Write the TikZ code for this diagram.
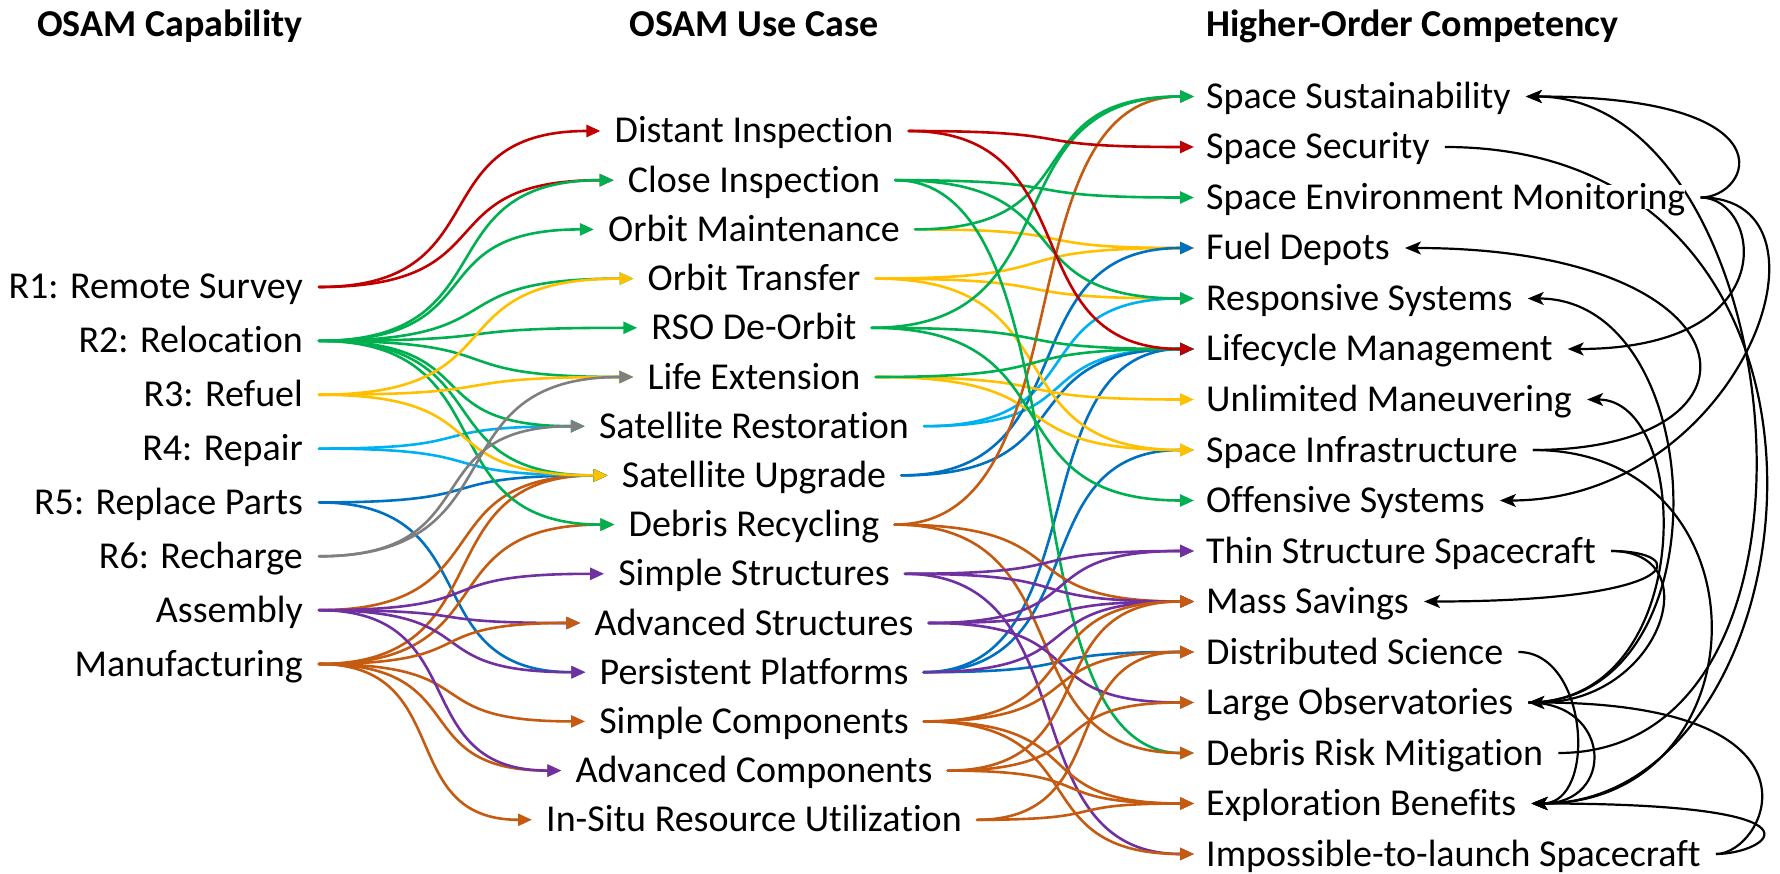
\documentclass[tikz,border=0pt]{standalone}
\usepackage{fontspec}
\setmainfont{Carlito}[Ligatures=NoCommon]
\usetikzlibrary{arrows.meta,calc}
\pgfdeclarelayer{bg}
\pgfsetlayers{bg,main}

\definecolor{cRed}{HTML}{C00000}
\definecolor{cGreen}{HTML}{00B050}
\definecolor{cYellow}{HTML}{FFC000}
\definecolor{cSky}{HTML}{00B0F0}
\definecolor{cBlue}{HTML}{0070C0}
\definecolor{cGray}{HTML}{7F7F7F}
\definecolor{cPurple}{HTML}{7030A0}
\definecolor{cOrange}{HTML}{C55A11}

\tikzset{
  item/.style={font=\fontsize{38}{44}\selectfont, inner sep=0pt, text height=24pt, text depth=0pt},
  head/.style={font=\bfseries\fontsize{38}{44}\selectfont, inner sep=0pt, text height=24pt, text depth=0pt},
  link/.style={line width=2.6pt, line cap=round, -{Triangle[length=14pt,width=12pt]}},
  back/.style={line width=2.2pt, black, -{Stealth[length=16pt,width=13pt,inset=4pt]}},
}

% S-shaped colored connector between two named points
\newcommand\flow[3]{%
  \draw[link,#1] let \p1=(#2), \p2=(#3), \n1={0.65*(\x2-\x1)} in
    (#2) .. controls +(\n1,0) and +(-\n1,0) .. (#3);}
% black connector looping out to the right side
\newcommand\backlink[4]{%
  \draw[back] (#1) to[out=0,in=0,out distance=#3pt,in distance=#4pt] (#2);}

\begin{document}
\begin{tikzpicture}[x=1pt,y=-1pt]
\useasboundingbox (0,0) rectangle (1780,874);

% column headings
\node[head, anchor=east] (hcap) at (303,25) {OSAM Capability};
\node[head] (huse) at (754,25) {OSAM Use Case};
\node[head, anchor=west] (hcomp) at (1206,25) {Higher-Order Competency};

% capabilities
\foreach \n/\t [count=\i] in {r1/{R1: Remote Survey}, r2/{R2: Relocation}, r3/{R3: Refuel},
    r4/{R4: Repair}, r5/{R5: Replace Parts}, r6/{R6: Recharge}, asm/{Assembly}, mfg/{Manufacturing}} {
  \node[item, anchor=east] (\n) at (303,{287+53.86*(\i-1)}) {\t};
  \coordinate (\n-o) at ([xshift=16pt]\n.east);
}

% use cases
\foreach \t [count=\i] in {Distant Inspection, Close Inspection, Orbit Maintenance, Orbit Transfer,
    RSO De-Orbit, Life Extension, Satellite Restoration, Satellite Upgrade, Debris Recycling,
    Simple Structures, Advanced Structures, Persistent Platforms, Simple Components,
    Advanced Components, In-Situ Resource Utilization} {
  \node[item] (m\i) at (754,{131+49.2*(\i-1)}) {\t};
  \coordinate (m\i-i) at ([xshift=-14pt]m\i.west);
  \coordinate (m\i-o) at ([xshift=15pt]m\i.east);
}

% competencies
\foreach \t [count=\i] in {Space Sustainability, Space Security, Space Environment Monitoring,
    Fuel Depots, Responsive Systems, Lifecycle Management, Unlimited Maneuvering,
    Space Infrastructure, Offensive Systems, Thin Structure Spacecraft, Mass Savings,
    Distributed Science, Large Observatories, Debris Risk Mitigation, Exploration Benefits,
    Impossible-to-launch Spacecraft} {
  \node[item, anchor=west, fill=white] (h\i) at (1206,{96.5+50.5*(\i-1)}) {\t};
  \coordinate (h\i-i) at ([xshift=-12pt]h\i.west);
  \coordinate (h\i-b) at ([xshift=15pt]h\i.east);
}

\begin{pgfonlayer}{bg}
% capability -> use case
\flow{cBlue}{r5-o}{m12-i}
\flow{cBlue}{r5-o}{m8-i}
\flow{cOrange}{mfg-o}{m8-i}
\flow{cOrange}{asm-o}{m8-i}
\flow{cOrange}{mfg-o}{m9-i}
\flow{cOrange}{mfg-o}{m13-i}
\flow{cOrange}{mfg-o}{m14-i}
\flow{cOrange}{mfg-o}{m15-i}
\flow{cPurple}{asm-o}{m10-i}
\flow{cPurple}{asm-o}{m11-i}
\flow{cPurple}{asm-o}{m12-i}
\flow{cPurple}{asm-o}{m14-i}
\flow{cOrange}{mfg-o}{m11-i}
\flow{cSky}{r4-o}{m7-i}
\flow{cSky}{r4-o}{m8-i}
\flow{cRed}{r1-o}{m1-i}
\flow{cRed}{r1-o}{m2-i}
\foreach \k in {2,...,9} {\flow{cGreen}{r2-o}{m\k-i}}
\flow{cYellow}{r3-o}{m4-i}
\flow{cYellow}{r3-o}{m6-i}
\flow{cYellow}{r3-o}{m8-i}
\flow{cGray}{r6-o}{m6-i}
\flow{cGray}{r6-o}{m7-i}

% use case -> competency
\flow{cYellow}{m3-o}{h4-i}
\flow{cYellow}{m4-o}{h4-i}
\flow{cYellow}{m4-o}{h5-i}
\flow{cSky}{m7-o}{h5-i}
\flow{cSky}{m7-o}{h6-i}
\flow{cBlue}{m8-o}{h4-i}
\flow{cBlue}{m8-o}{h6-i}
\flow{cBlue}{m12-o}{h6-i}
\flow{cBlue}{m12-o}{h8-i}
\flow{cBlue}{m12-o}{h12-i}
\flow{cYellow}{m4-o}{h8-i}
\flow{cYellow}{m6-o}{h7-i}
\flow{cYellow}{m6-o}{h8-i}
\flow{cOrange}{m9-o}{h1-i}
\flow{cGreen}{m2-o}{h3-i}
\flow{cGreen}{m2-o}{h5-i}
\flow{cGreen}{m2-o}{h14-i}
\flow{cGreen}{m3-o}{h1-i}
\flow{cGreen}{m5-o}{h1-i}
\flow{cGreen}{m5-o}{h6-i}
\flow{cGreen}{m5-o}{h9-i}
\flow{cGreen}{m6-o}{h6-i}
\flow{cOrange}{m9-o}{h11-i}
\flow{cOrange}{m9-o}{h14-i}
\flow{cRed}{m1-o}{h2-i}
\flow{cRed}{m1-o}{h6-i}
\flow{cPurple}{m10-o}{h10-i}
\flow{cPurple}{m10-o}{h11-i}
\flow{cPurple}{m10-o}{h16-i}
\flow{cPurple}{m11-o}{h10-i}
\flow{cPurple}{m11-o}{h11-i}
\flow{cPurple}{m11-o}{h13-i}
\flow{cPurple}{m12-o}{h11-i}
\flow{cOrange}{m13-o}{h11-i}
\flow{cOrange}{m13-o}{h12-i}
\flow{cOrange}{m13-o}{h15-i}
\flow{cOrange}{m13-o}{h16-i}
\flow{cOrange}{m14-o}{h11-i}
\flow{cOrange}{m14-o}{h13-i}
\flow{cOrange}{m14-o}{h15-i}
\flow{cOrange}{m15-o}{h12-i}
\flow{cOrange}{m15-o}{h15-i}

% competency -> competency
\backlink{h3-b}{h1-b}{50}{270}
\backlink{h3-b}{h6-b}{60}{220}
\backlink{h3-b}{h9-b}{150}{240}
\backlink{h2-b}{h15-b}{450}{290}
\backlink{h14-b}{h1-b}{300}{265}
\backlink{h8-b}{h4-b}{250}{355}
\backlink{h8-b}{h15-b}{240}{235}
\backlink{h13-b}{h5-b}{200}{184}
\backlink{h13-b}{h7-b}{170}{105}
\backlink{h10-b}{h11-b}{80}{264}
\backlink{h10-b}{h13-b}{100}{132}
\backlink{h12-b}{h15-b}{70}{66}
\backlink{h13-b}{h15-b}{84}{84}
\backlink{h16-b}{h13-b}{50}{312}
\backlink{h16-b}{h15-b}{50}{315}
\end{pgfonlayer}
\end{tikzpicture}
\end{document}
